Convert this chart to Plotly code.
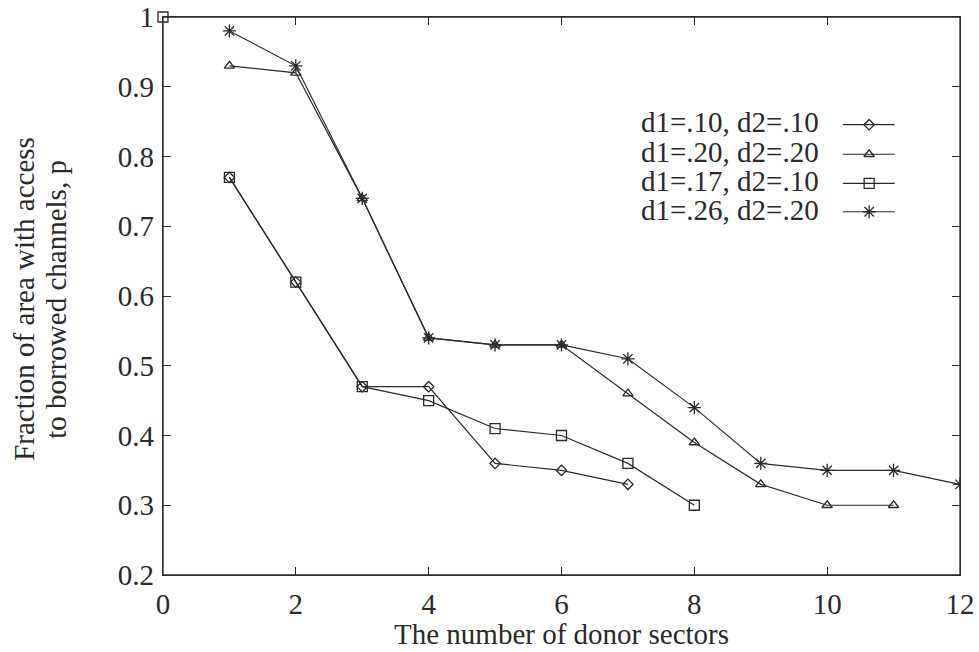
import plotly.graph_objects as go

names = ["d1=.10, d2=.10", "d1=.20, d2=.20", "d1=.17, d2=.10", "d1=.26, d2=.20"]
symbols = ["diamond-open", "triangle-up-open", "square-open", "asterisk-open"]
sizes = [8, 9, 10, 11]

x_a = [1, 2, 3, 4, 5, 6, 7]
y_a = [0.77, 0.62, 0.47, 0.47, 0.36, 0.35, 0.33]
x_b = [1, 2, 3, 4, 5, 6, 7, 8, 9, 10, 11]
y_b = [0.93, 0.92, 0.74, 0.54, 0.53, 0.53, 0.46, 0.39, 0.33, 0.30, 0.30]
x_c = [1, 2, 3, 4, 5, 6, 7, 8]
y_c = [0.77, 0.62, 0.47, 0.45, 0.41, 0.40, 0.36, 0.30]
x_d = [1, 2, 3, 4, 5, 6, 7, 8, 9, 10, 11, 12]
y_d = [0.98, 0.93, 0.74, 0.54, 0.53, 0.53, 0.51, 0.44, 0.36, 0.35, 0.35, 0.33]
x_start = [0]
y_start = [1.0]

x_ticks = [0, 2, 4, 6, 8, 10, 12]
y_ticks = [0.2, 0.3, 0.4, 0.5, 0.6, 0.7, 0.8, 0.9, 1.0]
y_ticklabels = ["0.2", "0.3", "0.4", "0.5", "0.6", "0.7", "0.8", "0.9", "1"]
x_title = "The number of donor sectors"
y_title_lines = ["Fraction of area with access", "to borrowed channels, p"]

col = "#2a2a2a"
font = "Liberation Serif"
FS = 29
TFS = 29

fig = go.Figure()
series = [(x_a, y_a), (x_b, y_b), (x_c, y_c), (x_d, y_d)]
for (xs, ys), nm, sym, sz in zip(series, names, symbols, sizes):
    fig.add_trace(go.Scatter(
        x=xs, y=ys, mode="lines+markers", name=nm,
        line=dict(color=col, width=1.2),
        marker=dict(symbol=sym, size=sz, color=col, line=dict(color=col, width=1.3)),
        showlegend=False))
fig.add_trace(go.Scatter(
    x=x_start, y=y_start, mode="markers", showlegend=False, cliponaxis=False,
    marker=dict(symbol="square-open", size=10, color=col, line=dict(color=col, width=1.3))))

# custom legend (symbol to the right of text, as in the reference)
leg_y = [0.811, 0.758, 0.706, 0.655]
for i, (nm, sym, sz) in enumerate(zip(names, symbols, sizes)):
    fig.add_annotation(xref="paper", yref="paper", x=0.826, y=leg_y[i],
                       text=nm, showarrow=False, xanchor="right", yanchor="middle",
                       font=dict(family=font, size=FS, color=col))
    fig.add_trace(go.Scatter(
        x=[0.853, 0.886, 0.918], y=[leg_y[i] - 0.004] * 3, xaxis="x2", yaxis="y2",
        mode="lines", line=dict(color=col, width=1.2), showlegend=False, hoverinfo="skip"))
    fig.add_trace(go.Scatter(
        x=[0.886], y=[leg_y[i] - 0.004], xaxis="x2", yaxis="y2",
        mode="markers", showlegend=False, hoverinfo="skip",
        marker=dict(symbol=sym, size=sz, color=col, line=dict(color=col, width=1.3))))

# axis titles as annotations for exact placement
fig.add_annotation(xref="paper", yref="paper", x=0.5, y=-0.106, yanchor="middle",
                   text=x_title, showarrow=False,
                   font=dict(family=font, size=FS, color=col))
for xp, line in zip([-0.1744, -0.1343], y_title_lines):
    fig.add_annotation(xref="paper", yref="paper", x=xp, y=0.495, textangle=-90,
                       text=line, showarrow=False, xanchor="center", yanchor="middle",
                       font=dict(family=font, size=FS, color=col))

# frame around the plotting area
fig.add_shape(type="rect", xref="paper", yref="paper", x0=0, y0=0, x1=1, y1=1,
              line=dict(color=col, width=1.3), layer="above")

axis_common = dict(showgrid=False, zeroline=False, showline=True, linecolor=col,
                   linewidth=1.3, mirror="ticks", ticks="inside", ticklen=8,
                   tickcolor=col, tickwidth=1.3, automargin=False,
                   ticklabeloverflow="allow",
                   tickfont=dict(family=font, size=TFS, color=col))

fig.update_layout(
    width=979, height=652,
    margin=dict(l=163, r=19, t=17, b=77),
    paper_bgcolor="white", plot_bgcolor="white",
    xaxis=dict(range=[0, 12], tickvals=x_ticks, ticklabelstandoff=3, **axis_common),
    yaxis=dict(range=[0.2, 1.0], tickvals=y_ticks, ticktext=y_ticklabels,
               ticklabelstandoff=2, **axis_common),
    xaxis2=dict(range=[0, 1], overlaying="x", visible=False),
    yaxis2=dict(range=[0, 1], overlaying="y", visible=False),
)

# remove the browser's default 8px page margin so the figure fills the window
fig.write_html("out.html", config={"displayModeBar": False},
               post_script="document.body.style.margin='0';document.body.style.overflow='hidden';")
